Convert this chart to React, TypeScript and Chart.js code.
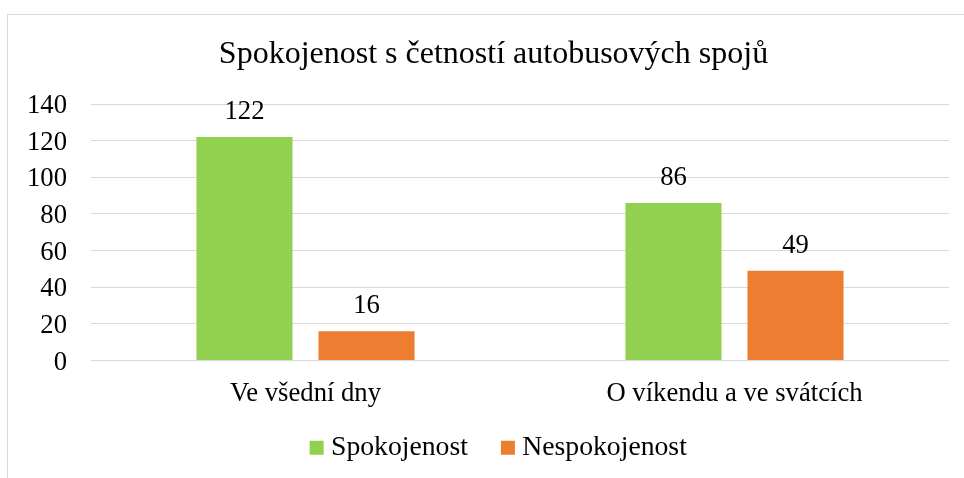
import React, { useEffect, useRef } from "react";
import { Chart, registerables } from "chart.js";

Chart.register(...registerables);

const TITLE = "Spokojenost s četností autobusových spojů";
const CATEGORIES = ["Ve všední dny", "O víkendu a ve svátcích"];
const SERIES_NAMES = ["Spokojenost", "Nespokojenost"];
const SPOKOJENOST = [122, 86];
const NESPOKOJENOST = [16, 49];
const Y_MIN = 0;
const Y_MAX = 140;
const Y_STEP = 20;

const COLORS = ["#92D050", "#ED7D31"];
const FONT_FAMILY = '"Liberation Serif", "Times New Roman", serif';
const TEXT_COLOR = "#000000";
const GRID_COLOR = "#D9D9D9";

const valueLabels = {
  id: "valueLabels",
  afterDatasetsDraw(chart: any) {
    const ctx = chart.ctx;
    ctx.save();
    ctx.font = `26.67px ${FONT_FAMILY}`;
    ctx.fillStyle = TEXT_COLOR;
    ctx.textAlign = "center";
    ctx.textBaseline = "alphabetic";
    chart.data.datasets.forEach((ds: any, i: number) => {
      const meta = chart.getDatasetMeta(i);
      meta.data.forEach((bar: any, j: number) => {
        ctx.fillText(String(ds.data[j]), bar.x, bar.y - 18);
      });
    });
    ctx.restore();
  },
};

// nudge title / legend blocks to match the original's off-centre placement
const blockShift = {
  id: "blockShift",
  afterLayout(chart: any) {
    const t = chart.titleBlock;
    if (t) {
      t.left += 19;
      t.right += 19;
    }
    const l = chart.legend;
    if (l) {
      l.left += 27;
      l.right += 27;
      l.top -= 14.2;
      l.bottom -= 14.2;
    }
  },
};

export default function App() {
  const canvasRef = useRef<HTMLCanvasElement | null>(null);

  useEffect(() => {
    if (!canvasRef.current) return;
    const chart = new Chart(canvasRef.current, {
      type: "bar",
      data: {
        labels: CATEGORIES,
        datasets: [
          {
            label: SERIES_NAMES[0],
            data: SPOKOJENOST,
            backgroundColor: COLORS[0],
            borderWidth: 0,
            categoryPercentage: 0.569,
            barPercentage: 0.787,
          },
          {
            label: SERIES_NAMES[1],
            data: NESPOKOJENOST,
            backgroundColor: COLORS[1],
            borderWidth: 0,
            categoryPercentage: 0.569,
            barPercentage: 0.787,
          },
        ],
      },
      options: {
        responsive: false,
        animation: false,
        events: [],
        layout: { padding: { top: 0, left: 0, right: 15, bottom: -7.7 } },
        plugins: {
          tooltip: { enabled: false },
          title: {
            display: true,
            text: TITLE,
            color: TEXT_COLOR,
            font: { family: FONT_FAMILY, size: 32, weight: "normal", lineHeight: 1.2 },
            padding: { top: 35.3, bottom: 30.3 },
          },
          legend: {
            display: true,
            position: "bottom",
            align: "center",
            labels: {
              color: TEXT_COLOR,
              font: { family: FONT_FAMILY, size: 27.7 },
              usePointStyle: true,
              pointStyle: "rect",
              boxWidth: 1,
              boxHeight: 14,
              padding: 39.5,
            },
          },
        },
        scales: {
          x: {
            grid: { display: false, drawTicks: false },
            border: { display: false },
            ticks: {
              color: TEXT_COLOR,
              font: { family: FONT_FAMILY, size: 26.67 },
              padding: 17.2,
              maxRotation: 0,
            },
            afterFit(scale: any) {
              scale.height = 48;
            },
          },
          y: {
            min: Y_MIN,
            max: Y_MAX,
            grid: { color: GRID_COLOR, lineWidth: 1, drawTicks: false },
            border: { display: false },
            ticks: {
              stepSize: Y_STEP,
              color: TEXT_COLOR,
              font: { family: FONT_FAMILY, size: 26.67 },
              padding: 24,
              labelOffset: 2,
            },
            afterFit(scale: any) {
              scale.width = 91;
            },
          },
        },
      },
      plugins: [valueLabels, blockShift],
    });
    return () => chart.destroy();
  }, []);

  return (
    <div
      style={{
        position: "absolute",
        left: 0,
        top: 0,
        width: 964,
        height: 478,
        overflow: "hidden",
        background: "#ffffff",
      }}
    >
      <div
        style={{
          position: "absolute",
          left: 7,
          top: 14,
          width: 2000,
          height: 2000,
          border: "1px solid #D9D9D9",
        }}
      />
      <canvas
        ref={canvasRef}
        width={964}
        height={478}
        style={{ position: "absolute", left: 0, top: 0, width: 964, height: 478, display: "block" }}
      />
    </div>
  );
}
